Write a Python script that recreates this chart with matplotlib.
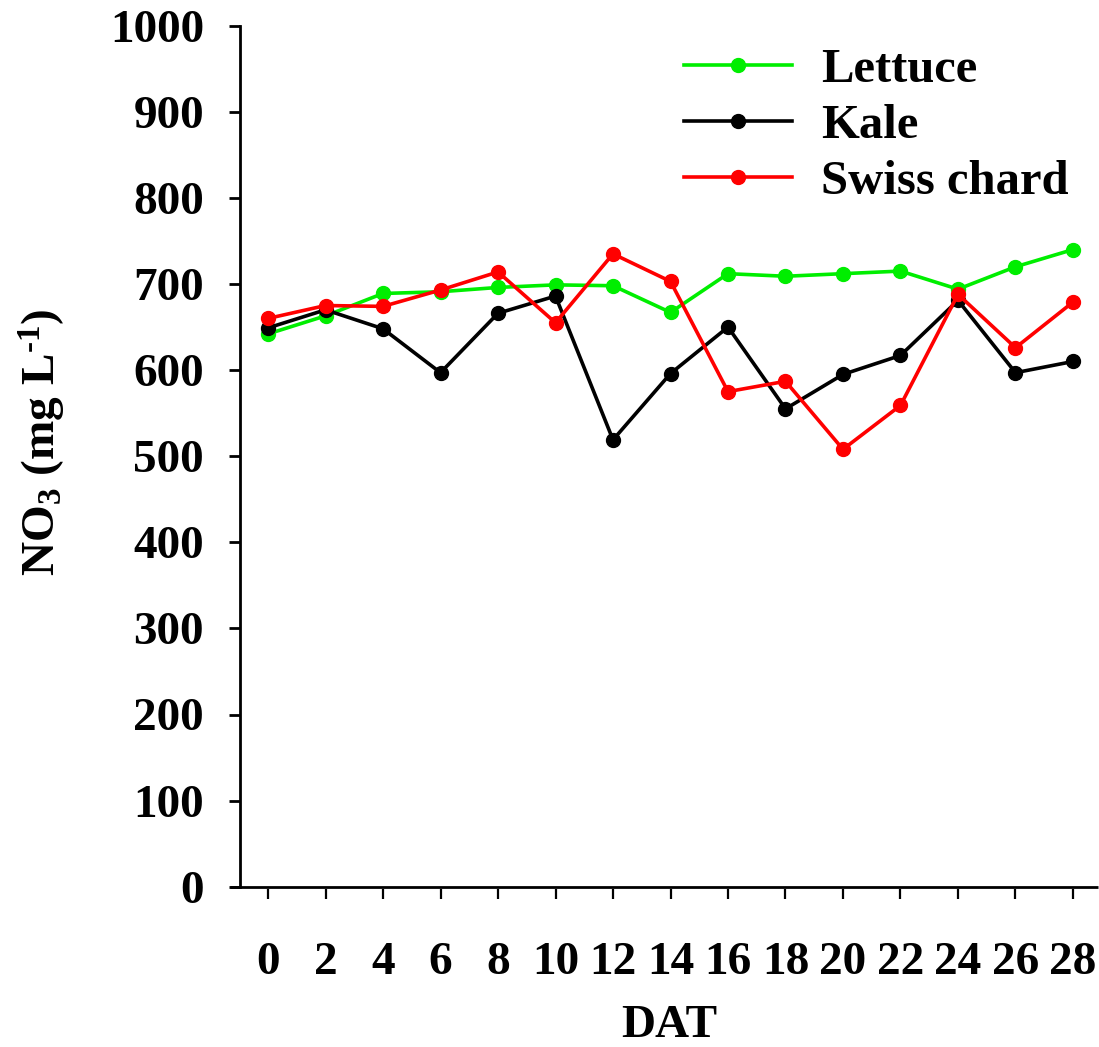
import matplotlib
matplotlib.use("Agg")
import matplotlib.pyplot as plt
from matplotlib.lines import Line2D

dat = [0, 2, 4, 6, 8, 10, 12, 14, 16, 18, 20, 22, 24, 26, 28]
lettuce = [642, 663, 689, 691, 696, 699, 698, 667, 712, 709, 712, 715, 694, 720, 740]
kale = [649, 670, 648, 597, 666, 686, 519, 596, 650, 555, 595, 617, 681, 597, 610]
swiss_chard = [660, 675, 674, 693, 714, 655, 735, 703, 575, 587, 508, 559, 688, 626, 679]
series_names = ["Lettuce", "Kale", "Swiss chard"]
yticks = [0, 100, 200, 300, 400, 500, 600, 700, 800, 900, 1000]

plt.rcParams['font.family'] = ['Liberation Serif', 'DejaVu Serif']
plt.rcParams['font.weight'] = 'bold'
plt.rcParams['mathtext.fontset'] = 'custom'
plt.rcParams['mathtext.rm'] = 'Liberation Serif:bold'
plt.rcParams['mathtext.bf'] = 'Liberation Serif:bold'
plt.rcParams['mathtext.it'] = 'Liberation Serif:bold'

W, H = 1099, 1047
fig = plt.figure(figsize=(W / 100, H / 100), dpi=100)
L, R, T, B = 240, 1098, 25.7, 886.7
ax = fig.add_axes([L / W, 1 - B / H, (R - L) / W, (B - T) / H])

lw = 2.6
ms = 10
ax.plot(dat, lettuce, '-o', color='#00ee00', lw=lw, ms=ms, label=series_names[0], zorder=3)
ax.plot(dat, kale, '-o', color='black', lw=lw, ms=ms, label=series_names[1], zorder=4)
ax.plot(dat, swiss_chard, '-o', color='#ff0000', lw=lw, ms=ms, label=series_names[2], zorder=5)

x0 = 268
pxu = (1073 - 268) / 28
ax.set_xlim(-(x0 - L) / pxu, (R - x0) / pxu)
ax.set_ylim(0, 1000)
ax.set_xticks(dat)
ax.set_yticks(yticks)

for s in ['top', 'right']:
    ax.spines[s].set_visible(False)
ax.spines['left'].set_linewidth(2.0)
ax.spines['bottom'].set_visible(False)
ax.spines['bottom'].set_position(('outward', 1.5))
ax.add_line(Line2D([(230 - L) / (R - L), 1.0], [0, 0], transform=ax.transAxes,
                   color='black', lw=2.0, clip_on=False, solid_capstyle='butt'))

fs = 34
ax.tick_params(axis='y', direction='out', length=8, width=2.0, pad=18, labelsize=fs)
ax.tick_params(axis='x', direction='out', length=7.5, width=1.6, pad=31, labelsize=fs)
for lab in ax.get_xticklabels() + ax.get_yticklabels():
    lab.set_fontweight('bold')

ax.set_xlabel('DAT', fontsize=fs, fontweight='bold', labelpad=15)
fig.text(42 / W, 1 - 442 / H, r'NO$_\mathbf{3}$ (mg $\mathbf{L}^{\text{-1}}$)',
         fontsize=fs, fontweight='bold', rotation=90, ha='center', va='center')

leg = ax.legend(loc='upper right', bbox_to_anchor=(1.0, 1.008), frameon=False,
                fontsize=35, handlelength=2.22, handletextpad=0.6, labelspacing=0.25,
                borderaxespad=0.2)
for t in leg.get_texts():
    t.set_fontweight('bold')

fig.savefig('out.png', dpi=100)
